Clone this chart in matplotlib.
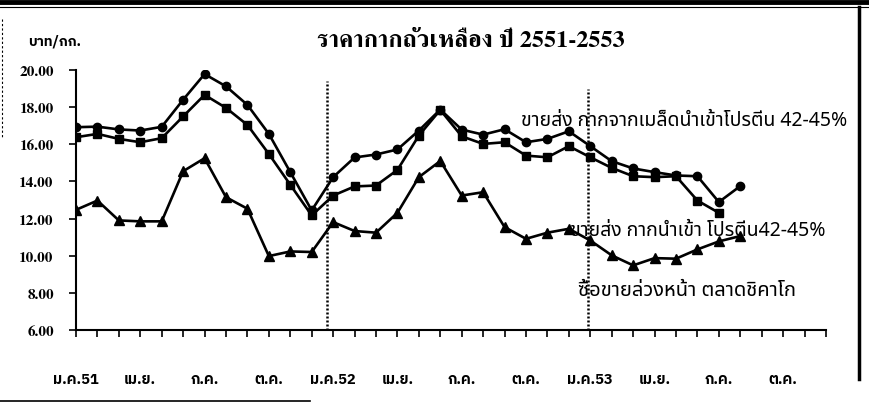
import matplotlib
matplotlib.use("Agg")
import matplotlib.pyplot as plt
from matplotlib.lines import Line2D

# monthly prices, Jan 2551 onward (baht/kg)
circle_vals = [16.92, 16.95, 16.80, 16.74, 16.94, 18.40, 19.78, 19.12, 18.12, 16.56,
               14.50, 12.44, 14.23, 15.29, 15.45, 15.72, 16.74, 17.87, 16.79, 16.52,
               16.81, 16.11, 16.29, 16.70, 15.90, 15.09, 14.70, 14.50, 14.32, 14.28,
               12.89, 13.75]
square_vals = [16.38, 16.56, 16.29, 16.11, 16.33, 17.50, 18.66, 17.96, 17.04, 15.48,
               13.82, 12.17, 13.24, 13.73, 13.78, 14.62, 16.47, 17.85, 16.43, 16.02,
               16.11, 15.39, 15.30, 15.90, 15.30, 14.73, 14.28, 14.23, 14.28, 12.97,
               12.31]
tri_vals = [12.47, 12.97, 11.90, 11.85, 11.85, 14.55, 15.25, 13.15, 12.53, 9.98,
            10.23, 10.20, 11.81, 11.33, 11.24, 12.31, 14.23, 15.10, 13.24, 13.42,
            11.54, 10.91, 11.24, 11.45, 10.82, 10.02, 9.48, 9.87, 9.84, 10.34,
            10.77, 11.06]
month_labels = ["ม.ค.51", "เม.ย.", "ก.ค.", "ต.ค.", "ม.ค.52", "เม.ย.", "ก.ค.", "ต.ค.",
                "ม.ค.53", "เม.ย.", "ก.ค.", "ต.ค."]
n_months = 36
divider_x = [11.7, 23.9]
label_circle = "ขายส่ง กากจากเมล็ดนำเข้าโปรตีน 42-45%"
label_square = "ขายส่ง กากนำเข้า โปรตีน42-45%"
label_tri = "ซื้อขายล่วงหน้า ตลาดชิคาโก"
title = "ราคากากถั่วเหลือง ปี 2551-2553"

serif = ["FreeSerif", "DejaVu Serif"]
sans = ["Noto Sans Thai", "DejaVu Sans"]
bold_sans = ["IBM Plex Sans Thai", "Noto Sans Thai", "DejaVu Sans"]

W, H = 870, 406
fig = plt.figure(figsize=(W / 100, H / 100), dpi=100)
ax = fig.add_axes([76 / W, 1 - 331 / H, 750 / W, 260 / H])

ax.plot(range(len(circle_vals)), circle_vals, color="black", lw=1.9,
        marker="o", markersize=6, zorder=3)
ax.plot(range(len(square_vals)), square_vals, color="black", lw=1.9,
        marker="s", markersize=5.5, zorder=3)
ax.plot(range(len(tri_vals)), tri_vals, color="black", lw=1.9,
        marker="^", markersize=6.5, zorder=3)

ax.vlines(divider_x[0], 6, 19.4, colors="black", lw=1.8, linestyles=(0, (0.8, 0.8)))
ax.vlines(divider_x[1], 6, 19.0, colors="black", lw=1.8, linestyles=(0, (0.8, 0.8)))

ax.set_xlim(0, n_months - 1)
ax.set_ylim(6, 20)
ax.set_yticks([6, 8, 10, 12, 14, 16, 18, 20])
ax.set_yticklabels(["%.2f" % v for v in ax.get_yticks()],
                   family=serif, fontweight="bold", fontsize=11)
ax.set_xticks(range(n_months))
xl = [""] * n_months
for k, s in enumerate(month_labels):
    xl[k * 3] = s
ax.set_xticklabels(xl, family=bold_sans, fontweight="bold", fontsize=10.5)
ax.tick_params(axis="y", direction="out", length=5, width=1.2, pad=11)
ax.tick_params(axis="x", direction="out", length=5, width=1.2, pad=25)
for side in ["top", "right"]:
    ax.spines[side].set_visible(False)
for side in ["left", "bottom"]:
    ax.spines[side].set_linewidth(1.5)

def px(x, y):
    return x / W, 1 - y / H

fig.text(*px(471, 47), title, family=serif, fontweight="bold", fontsize=17.5,
         ha="center", va="baseline")
fig.text(*px(28, 45), "บาท/กก.", family=bold_sans, fontweight="bold", fontsize=10,
         ha="left", va="baseline")
fig.text(*px(521, 126), label_circle, family=sans, fontsize=14,
         ha="left", va="baseline")
fig.text(*px(570, 236), label_square, family=sans, fontsize=14,
         ha="left", va="baseline")
fig.text(*px(578, 296), label_tri, family=sans, fontsize=14.5,
         ha="left", va="baseline")

# page frame
fig.add_artist(Line2D([0, 1], [1 - 3 / H, 1 - 3 / H], color="black", lw=3.5))
fig.add_artist(Line2D([0, 1], [1 - 8 / H, 1 - 8 / H], color="black", lw=0.8))
fig.add_artist(Line2D([859 / W, 859 / W], [1 - 8 / H, 1 - 380 / H], color="black", lw=2.5))
fig.add_artist(Line2D([2 / W, 2 / W], [1 - 20 / H, 1 - 140 / H], color="black",
                      lw=0.8, linestyle=(0, (2, 2))))
fig.add_artist(Line2D([0, 310 / W], [1 - 402 / H, 1 - 402 / H], color="black", lw=1.2))

fig.savefig("out.png", dpi=100)
